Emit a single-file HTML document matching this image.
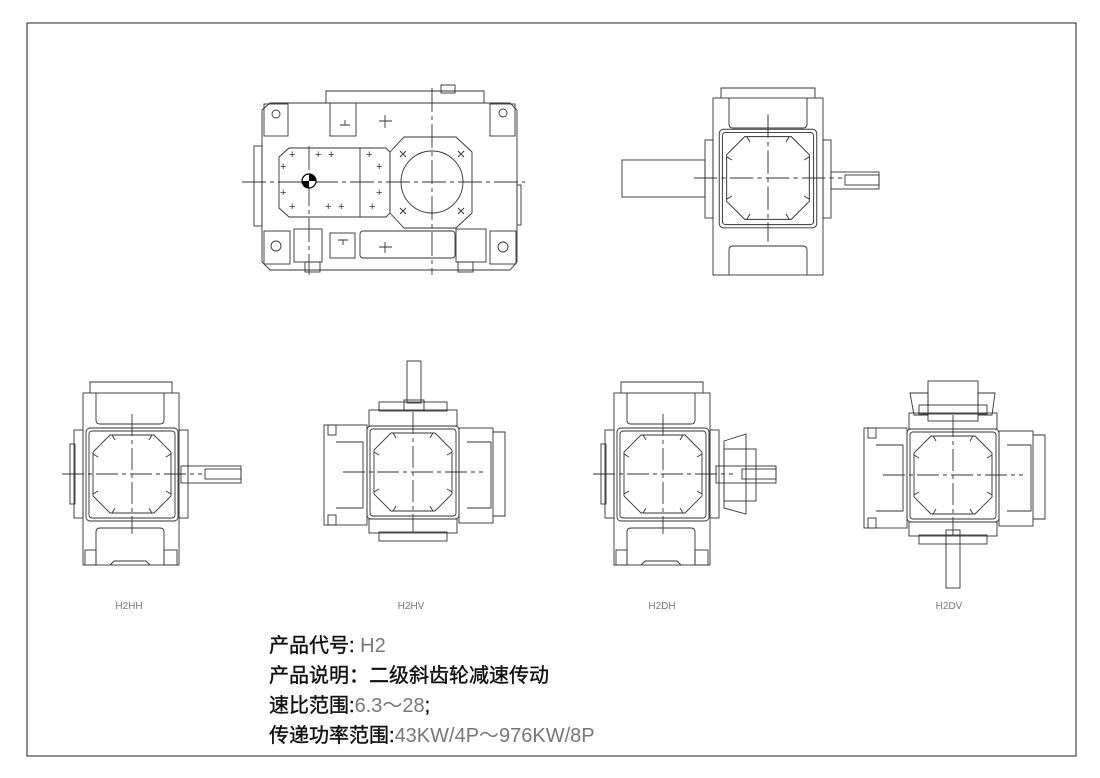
<!DOCTYPE html>
<html><head><meta charset="utf-8"><style>
html,body{margin:0;padding:0;background:#fff}
svg{display:block}
.t{font-family:"Liberation Sans","Noto Sans CJK SC",sans-serif;font-size:20px;fill:#111;stroke:#111;stroke-width:0.4}
.g{font-family:"Liberation Sans",sans-serif;font-weight:normal;fill:#777;stroke:none}
</style></head><body>
<svg width="1100" height="778" viewBox="0 0 1100 778" xmlns="http://www.w3.org/2000/svg">
<defs>
<g id="core" fill="none" stroke="#333" stroke-width="0.9">
 <rect x="-46" y="-46" width="92" height="93" rx="4"/>
 <rect x="-43" y="-43" width="86" height="87" rx="3"/>
 <path d="M-22,-39 H22 L39,-22 V22 L22,39 H-22 L-39,22 V-22 Z"/>
 <path d="M-20,-39 l3,5 M20,-39 l-3,5 M39,-20 l-5,3 M39,20 l-5,-3 M20,39 l-3,-5 M-20,39 l3,-5 M-39,20 l5,-3 M-39,-20 l5,3"/>
 <path d="M0,-60 V60 M-70,0 H70" stroke-dasharray="22,4,4,4"/>
</g>
<g id="tall" fill="none" stroke="#333" stroke-width="0.9">
 <rect x="-49" y="-81" width="96" height="172"/>
 <path d="M-42,-81 V-92 H40 V-81"/>
 <path d="M-36,-81 V-54 q0,4 4,4 H28 q4,0 4,-4 V-81"/>
 <path d="M-36,91 V58 q0,-4 4,-4 H28 q4,0 4,4 V91"/>
 <rect x="-47" y="76" width="11" height="15"/><rect x="32" y="76" width="13" height="15"/>
 <path d="M-22,91 l4,-4 H14 l4,4"/>
 <rect x="-58" y="-44" width="9" height="88"/><rect x="-62" y="-30" width="5" height="60"/>
 <rect x="47" y="-44" width="9" height="88"/>
</g>
<g id="wide" fill="none" stroke="#333" stroke-width="0.9">
 <rect x="-89" y="-47" width="43" height="100"/>
 <rect x="-85" y="-47" width="8" height="10"/><rect x="-85" y="43" width="8" height="10"/>
 <path d="M-77,-30 H-50 V36 H-77"/>
 <rect x="46" y="-44" width="34" height="95"/>
 <path d="M80,-40 H92 V44 H80"/>
 <path d="M54,-30 H78 V36 H54"/>
 <rect x="-44" y="-62" width="88" height="16"/><rect x="-34" y="-70" width="68" height="9"/>
 <rect x="-44" y="47" width="88" height="14"/><rect x="-34" y="60" width="68" height="9"/>
</g>
</defs>
<rect x="27" y="23" width="1049" height="733" fill="none" stroke="#222" stroke-width="1"/>

<!-- top-left view -->
<g fill="none" stroke="#333" stroke-width="0.9">
 <path d="M326,103 V91 H484 V103"/><rect x="441" y="85" width="14" height="8"/>
 <path d="M270,103 H510 L517,110 V262 L510,270 H270 L262,262 V110 Z"/>
 <rect x="254" y="146" width="8" height="80"/><rect x="517" y="185" width="4" height="40"/>
 <rect x="264" y="104" width="24" height="32"/><circle cx="276" cy="114" r="4"/>
 <rect x="490" y="104" width="25" height="32"/><circle cx="503" cy="113" r="4"/>
 <rect x="330" y="103" width="26" height="33"/>
 <path d="M340,125 H350 M345,125 V120 M379,121 H392 M385,115 V128"/>
 <path d="M289,148 H386 L390,152 V213 L386,217 H289 L279,208 V157 Z"/><path d="M360,148 V217"/>
 <path d="M404,137 H456 L472,152 V213 L456,228 H404 L390,213 V152 Z"/>
 <circle cx="432" cy="182" r="31"/>
 <path d="M400,151 l6,6 M406,151 l-6,6 M458,151 l6,6 M464,151 l-6,6 M400,208 l6,6 M406,208 l-6,6 M458,208 l6,6 M464,208 l-6,6"/>
 <path d="M242,182 H525" stroke-dasharray="24,4,4,4"/><path d="M432,88 V275 M309,146 V275" stroke-dasharray="24,4,4,4"/>
 <rect x="264" y="231" width="26" height="33"/><circle cx="276" cy="246" r="5"/>
 <rect x="294" y="229" width="28" height="33"/><rect x="330" y="233" width="25" height="25"/>
 <path d="M338,240 H348 M343,240 V245 M385,242 V253 M379,247 H392"/>
 <rect x="360" y="231" width="95" height="27" rx="3"/>
 <rect x="456" y="229" width="30" height="33"/><rect x="490" y="231" width="26" height="33"/><circle cx="503" cy="247" r="5"/>
 <rect x="305" y="262" width="15" height="10"/><rect x="458" y="262" width="15" height="10"/>
</g>
<circle cx="309" cy="181" r="7" fill="#fff" stroke="#000" stroke-width="1.2"/>
<path d="M309,174 A7,7 0 0 1 316,181 H309 Z M309,188 A7,7 0 0 1 302,181 H309 Z" fill="#000"/>
<g fill="#333" font-size="11" font-family="Liberation Sans"><text x="289" y="158">+</text><text x="315" y="158">+</text><text x="328" y="158">+</text><text x="366" y="158">+</text><text x="280" y="170">+</text><text x="376" y="170">+</text><text x="280" y="196">+</text><text x="376" y="196">+</text><text x="289" y="210">+</text><text x="325" y="210">+</text><text x="338" y="210">+</text><text x="369" y="210">+</text></g>

<!-- top-right view -->
<g fill="none" stroke="#333" stroke-width="0.9">
 <rect x="713" y="98" width="110" height="177"/>
 <path d="M721,98 V88 H815 V98"/>
 <path d="M729,98 V124 q0,4 4,4 H803 q4,0 4,-4 V98 M729,275 V250 q0,-4 4,-4 H803 q4,0 4,4 V275"/>
 <rect x="705" y="140" width="8" height="78"/><rect x="823" y="140" width="8" height="78"/>
 <rect x="622" y="160" width="83" height="37"/>
 <rect x="831" y="172" width="48" height="17"/><rect x="845" y="175" width="34" height="10"/>
</g>
<use href="#core" transform="translate(768,178) scale(1.06)"/>

<!-- bottom views -->
<use href="#tall" x="132" y="474"/><use href="#core" x="132" y="474"/>
<g fill="none" stroke="#333" stroke-width="0.9"><rect x="181" y="466" width="60" height="17"/><rect x="205" y="469" width="36" height="10"/></g>

<use href="#wide" x="413" y="472"/><use href="#core" x="413" y="472"/>
<g fill="none" stroke="#333" stroke-width="0.9"><rect x="407" y="361" width="14" height="42"/><rect x="404" y="400" width="20" height="10"/></g>

<use href="#tall" x="663" y="474"/><use href="#core" x="663" y="474"/>
<g fill="none" stroke="#333" stroke-width="0.9"><path d="M724,441 L746,434 V514 L724,508 Z"/><rect x="724" y="449" width="32" height="52"/><rect x="716" y="466" width="60" height="17"/><rect x="742" y="469" width="34" height="10"/></g>

<use href="#wide" x="953" y="475"/><use href="#core" x="953" y="475"/>
<g fill="none" stroke="#333" stroke-width="0.9"><rect x="928" y="381" width="50" height="40"/><path d="M910,393 H928 V415 H914 Z M978,393 H995 L992,415 H978 Z"/><rect x="946" y="530" width="14" height="58"/></g>

<g class="g" font-size="10" text-anchor="middle"><text x="129" y="609">H2HH</text><text x="411" y="609">H2HV</text><text x="662" y="609">H2DH</text><text x="949" y="609">H2DV</text></g>

<text class="t" x="269" y="652">产品代号: <tspan class="g">H2</tspan></text>
<text class="t" x="269" y="682">产品说明：二级斜齿轮减速传动</text>
<text class="t" x="269" y="712">速比范围:<tspan class="g">6.3～28</tspan>;</text>
<text class="t" x="269" y="742">传递功率范围:<tspan class="g">43KW/4P～976KW/8P</tspan></text>
</svg>
</body></html>
